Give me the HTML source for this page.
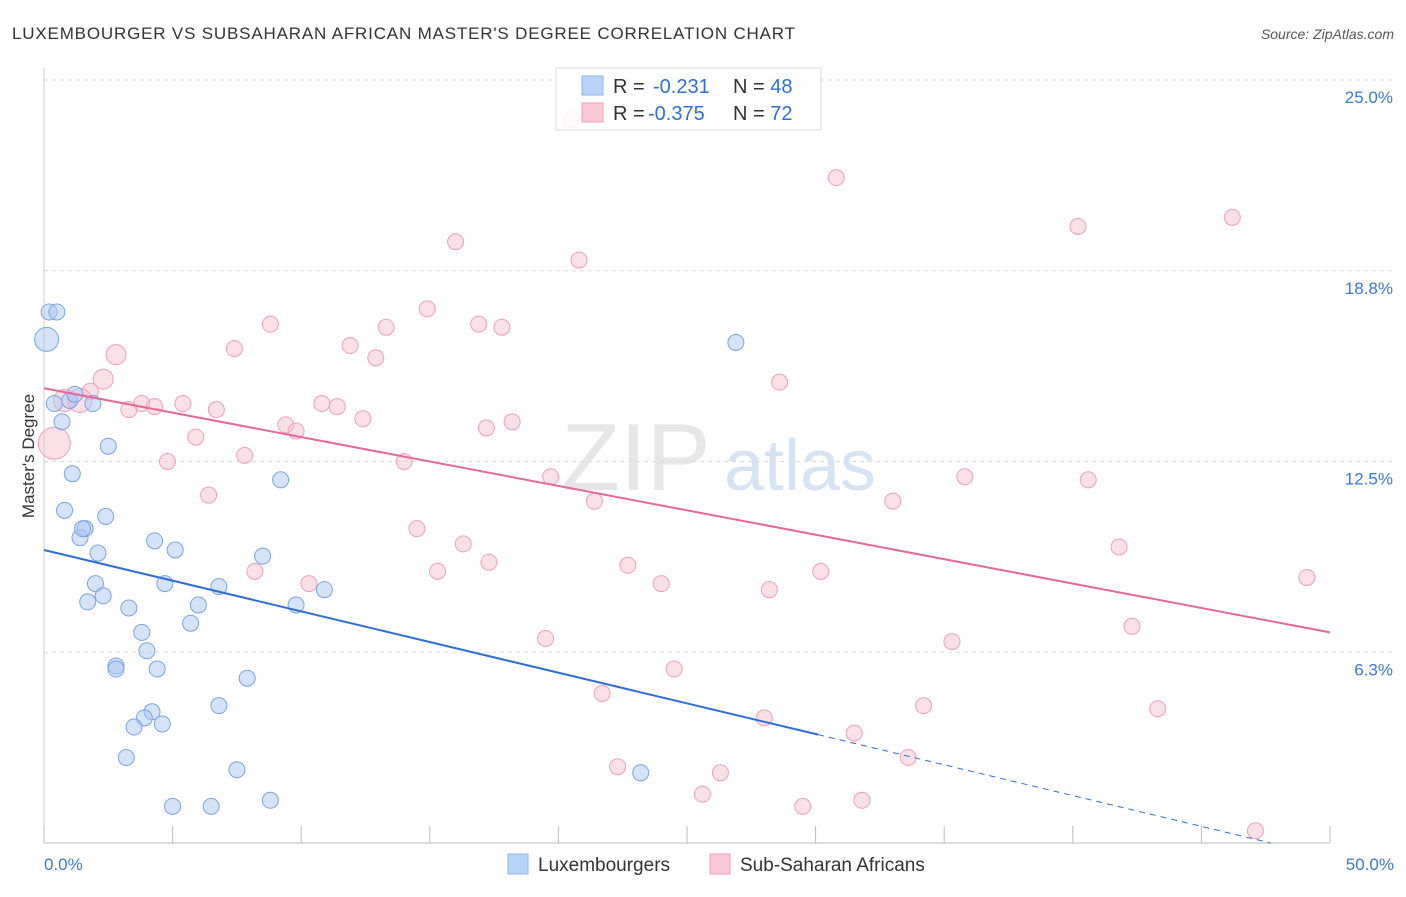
<!DOCTYPE html>
<html><head><meta charset="utf-8"><style>
body{margin:0;background:#fff;font-family:"Liberation Sans",sans-serif;}
svg text{font-family:"Liberation Sans",sans-serif;}
</style></head><body>
<svg id="c" width="1406" height="892" xmlns="http://www.w3.org/2000/svg">
<text x="12" y="39" font-size="17" fill="#333" textLength="783">LUXEMBOURGER VS SUBSAHARAN AFRICAN MASTER'S DEGREE CORRELATION CHART</text>
<text x="1394" y="39" font-size="14" fill="#555" font-style="italic" text-anchor="end">Source: ZipAtlas.com</text>
<text x="636" y="490" font-size="96" fill="#e6e6e6" font-family="Liberation Serif" text-anchor="middle">ZIP</text>
<text x="800" y="490" font-size="72" fill="#d6e3f3" text-anchor="middle">atlas</text>
<g id="grid"></g><g id="pts"></g><g id="lines"></g>
<text transform="translate(34,456) rotate(-90)" font-size="17" fill="#333" text-anchor="middle">Master's Degree</text>
<g>
<rect x="556" y="68" width="265" height="62" fill="rgba(255,255,255,0.85)" stroke="#ddd"/>
<rect x="582" y="76" width="21" height="19" fill="#b9d3f7" stroke="#8db4ea"/>
<rect x="582" y="103" width="21" height="19" fill="#fac9d7" stroke="#f0a0b8"/>
<text x="613" y="93" font-size="20" fill="#333">R = <tspan x="653" fill="#2f6fd6">-0.231</tspan><tspan x="733" fill="#333">N = </tspan><tspan fill="#2f6fd6">48</tspan></text>
<text x="613" y="120" font-size="20" fill="#333">R = <tspan x="648" fill="#2f6fd6">-0.375</tspan><tspan x="733" fill="#333">N = </tspan><tspan fill="#2f6fd6">72</tspan></text>
</g>
<g>
<rect x="508" y="854" width="20" height="20" fill="#b9d3f7" stroke="#8db4ea"/>
<text x="538" y="871" font-size="19" fill="#333">Luxembourgers</text>
<rect x="710" y="854" width="20" height="20" fill="#fac9d7" stroke="#f0a0b8"/>
<text x="740" y="871" font-size="19" fill="#333">Sub-Saharan Africans</text>
</g>
</svg>
<script>
const blueX=[0.1,0.2,0.5,0.4,1.0,1.2,1.9,0.7,2.5,1.1,0.8,1.4,1.6,1.5,2.4,2.1,2.0,1.7,2.3,3.3,3.8,4.0,2.8,2.8,4.4,4.3,5.1,4.7,6.0,5.7,6.8,9.8,10.9,8.5,9.2,7.9,6.8,4.2,3.9,3.5,4.6,3.2,7.5,5.0,6.5,8.8,26.9,23.2];
const blueY=[16.5,17.4,17.4,14.4,14.5,14.7,14.4,13.8,13.0,12.1,10.9,10.0,10.3,10.3,10.7,9.5,8.5,7.9,8.1,7.7,6.9,6.3,5.8,5.7,5.7,9.9,9.6,8.5,7.8,7.2,8.4,7.8,8.3,9.4,11.9,5.4,4.5,4.3,4.1,3.8,3.9,2.8,2.4,1.2,1.2,1.4,16.4,2.3];
const blueR=[12,8,8,8,8,8,8,8,8,8,8,8,8,8,8,8,8,8,8,8,8,8,8,8,8,8,8,8,8,8,8,8,8,8,8,8,8,8,8,8,8,8,8,8,8,8,8,8];
const pinkX=[20.5,16.0,20.8,30.8,40.2,46.2,8.8,14.9,16.9,13.3,17.8,11.9,7.4,12.9,2.8,2.3,1.8,0.8,1.4,28.6,3.8,4.3,3.3,5.4,6.7,10.8,11.4,12.4,9.4,9.8,5.9,18.2,17.2,4.8,7.8,14.0,0.4,19.7,21.4,35.8,40.6,33.0,6.4,14.5,16.3,17.3,15.3,22.7,8.2,10.3,24.0,30.2,28.2,41.8,49.1,19.5,35.3,42.3,24.5,21.7,34.2,43.3,28.0,31.5,33.6,22.3,26.3,25.6,29.5,31.8,47.1];
const pinkY=[23.7,19.7,19.1,21.8,20.2,20.5,17.0,17.5,17.0,16.9,16.9,16.3,16.2,15.9,16.0,15.2,14.8,14.5,14.5,15.1,14.4,14.3,14.2,14.4,14.2,14.4,14.3,13.9,13.7,13.5,13.3,13.8,13.6,12.5,12.7,12.5,13.1,12.0,11.2,12.0,11.9,11.2,11.4,10.3,9.8,9.2,8.9,9.1,8.9,8.5,8.5,8.9,8.3,9.7,8.7,6.7,6.6,7.1,5.7,4.9,4.5,4.4,4.1,3.6,2.8,2.5,2.3,1.6,1.2,1.4,0.4];
const pinkBig={36:16,18:12,17:11,14:10,15:10};
const X=v=>44+v*25.72, Y=v=>843-v*30.52;
const NS="http://www.w3.org/2000/svg";
const mk=(p,t,a)=>{const e=document.createElementNS(NS,t);for(const k in a)e.setAttribute(k,a[k]);p.appendChild(e);return e;};
const g=document.getElementById('grid');
const yTicks=[25,18.75,12.5,6.25], yLabels=["25.0%","18.8%","12.5%","6.3%"];
yTicks.forEach((t,i)=>{
 const l=mk(g,'line',{x1:44,x2:1394,y1:Y(t),y2:Y(t),stroke:'#ddd','stroke-dasharray':'4,4'});
 
 
 const tx=mk(g,'text',{x:1393,y:Y(t)+23,'font-size':17,fill:'#3a78d8','text-anchor':'end'});tx.textContent=yLabels[i];
 
 
});
const ax=mk(g,'line',{x1:44,x2:1330,y1:843,y2:843,stroke:'#bbb'});


const ay=mk(g,'line',{x1:44,x2:44,y1:68,y2:843,stroke:'#ccc'});


for(let i=0;i<=10;i++){const t=mk(g,'line',{x1:X(i*5),x2:X(i*5),y1:826,y2:843,stroke:'#bbb'});
 
 }
[["0.0%",44,'start'],["50.0%",1394,'end']].forEach(a=>{const t=mk(g,'text',{x:a[1],y:870,'font-size':17,fill:'#3a78d8','text-anchor':a[2]});t.textContent=a[0];
 
 });
const P=document.getElementById('pts');
pinkX.forEach((x,i)=>{const c=mk(P,'circle',{cx:X(x),cy:Y(pinkY[i]),r:pinkBig[i]||8,fill:'rgba(248,186,205,0.45)',stroke:'#f0a0b8','stroke-width':1});
 
 });
blueX.forEach((x,i)=>{const c=mk(P,'circle',{cx:X(x),cy:Y(blueY[i]),r:blueR[i],fill:'rgba(170,200,245,0.5)',stroke:'#7aa5e4','stroke-width':1});
 
 });
const L=document.getElementById('lines');
const pl=mk(L,'line',{x1:X(0),y1:Y(14.9),x2:X(50),y2:Y(6.9),stroke:'#e8679a','stroke-width':2});


const bl=mk(L,'line',{x1:X(0),y1:Y(9.6),x2:X(30.1),y2:Y(3.55),stroke:'#2e6fd6','stroke-width':2});


const bd=mk(L,'line',{x1:X(30.1),y1:Y(3.55),x2:X(47.7),y2:Y(0),stroke:'#2e6fd6','stroke-width':1,'stroke-dasharray':'6,5'});


</script>
</body></html>
